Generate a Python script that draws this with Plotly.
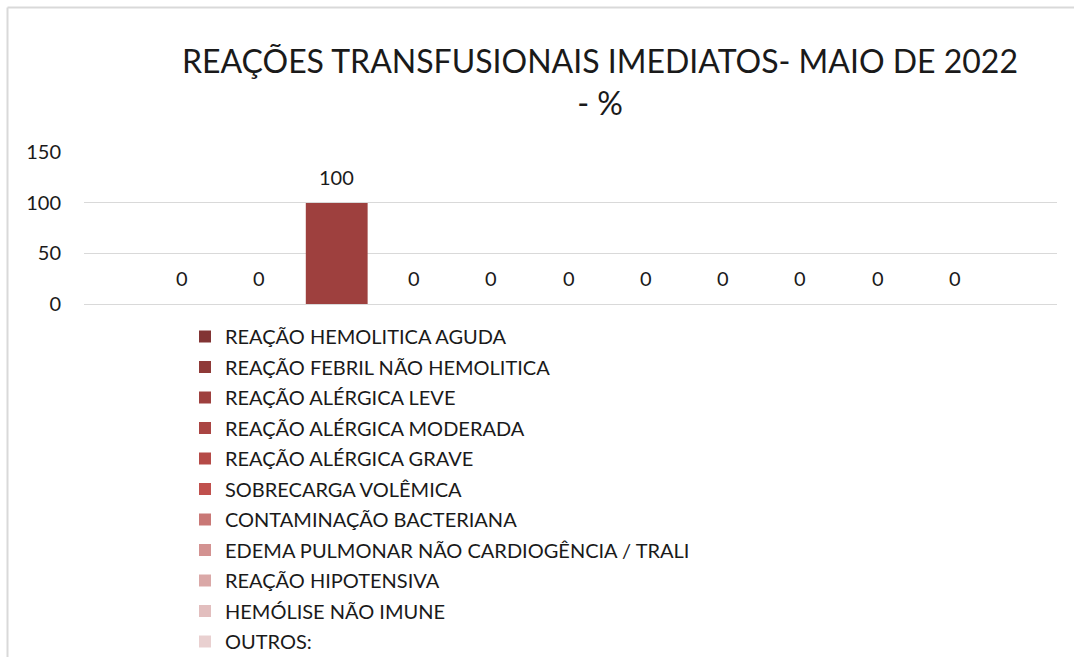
import plotly.graph_objects as go

# Reaction categories (one bar each) and their share in %
categories = [
    "REAÇÃO HEMOLITICA AGUDA",
    "REAÇÃO FEBRIL NÃO HEMOLITICA",
    "REAÇÃO ALÉRGICA LEVE",
    "REAÇÃO ALÉRGICA MODERADA",
    "REAÇÃO ALÉRGICA GRAVE",
    "SOBRECARGA VOLÊMICA",
    "CONTAMINAÇÃO BACTERIANA",
    "EDEMA PULMONAR NÃO CARDIOGÊNCIA / TRALI",
    "REAÇÃO HIPOTENSIVA",
    "HEMÓLISE NÃO IMUNE",
    "OUTROS:",
]
values = [0, 0, 100, 0, 0, 0, 0, 0, 0, 0, 0]
colors = [
    "#823434", "#8f3a38", "#9e403e", "#aa4543", "#b54a47", "#c0504d",
    "#c97876", "#d39291", "#daa8a7", "#e2bebe", "#e9d0d0",
]
y_ticks = [0, 50, 100, 150]
title_text = "REAÇÕES TRANSFUSIONAIS IMEDIATOS- MAIO DE 2022<br>- %"

FONT = "Lato"
TEXT_COLOR = "#1a1a1a"
W, H = 1074, 657
ML, MR, MT, MB = 84, 17, 152, 353

fig = go.Figure()
for i, (name, val, col) in enumerate(zip(categories, values, colors)):
    fig.add_trace(go.Bar(
        x=[i], y=[val], width=0.8, name=name,
        marker=dict(color=col, line=dict(width=0)),
        legendgroup=name,
    ))
    fig.add_annotation(
        x=i, y=val, xref="x", yref="y", text=str(val), showarrow=False,
        yanchor="bottom", yshift=12,
        font=dict(family=FONT, size=20, color=TEXT_COLOR),
    )

# helpers: pixel position -> paper fraction
pw, ph = W - ML - MR, H - MT - MB
def px_x(p):
    return (p - ML) / pw
def px_y(p):
    return (H - MB - p) / ph

fig.add_annotation(
    x=px_x(600), y=px_y(81), xref="paper", yref="paper",
    text=title_text, showarrow=False, xanchor="center", yanchor="middle",
    align="center", font=dict(family=FONT, size=32, color=TEXT_COLOR),
)

# light grey frame (left and top edges)
line_style = dict(color="#d9d9d9", width=2)
fig.add_shape(type="line", xref="paper", yref="paper",
              x0=px_x(7.5), x1=px_x(1080), y0=px_y(7.5), y1=px_y(7.5), line=line_style)
fig.add_shape(type="line", xref="paper", yref="paper",
              x0=px_x(7.5), x1=px_x(7.5), y0=px_y(7.5), y1=px_y(660), line=line_style)

fig.update_layout(
    width=W, height=H,
    margin=dict(l=ML, r=MR, t=MT, b=MB, autoexpand=False),
    paper_bgcolor="white", plot_bgcolor="white",
    barmode="overlay",
    xaxis=dict(range=[-1.27, 11.32], showticklabels=False, showgrid=False,
               zeroline=False, showline=False, ticks=""),
    yaxis=dict(range=[0, 150.4], tickvals=y_ticks, showgrid=True,
               gridcolor="#d9d9d9", gridwidth=1, zeroline=True,
               zerolinecolor="#d9d9d9", zerolinewidth=1, showline=False,
               ticks="", ticklabelstandoff=22,
               tickfont=dict(family=FONT, size=20, color=TEXT_COLOR)),
    showlegend=True,
    legend=dict(
        orientation="v", x=px_x(185), xanchor="left", y=px_y(317), yanchor="top",
        traceorder="grouped", tracegroupgap=1.5, maxheight=600,
        font=dict(family=FONT, size=20, color=TEXT_COLOR),
        bgcolor="rgba(0,0,0,0)",
    ),
)

fig.write_html("out.html")
